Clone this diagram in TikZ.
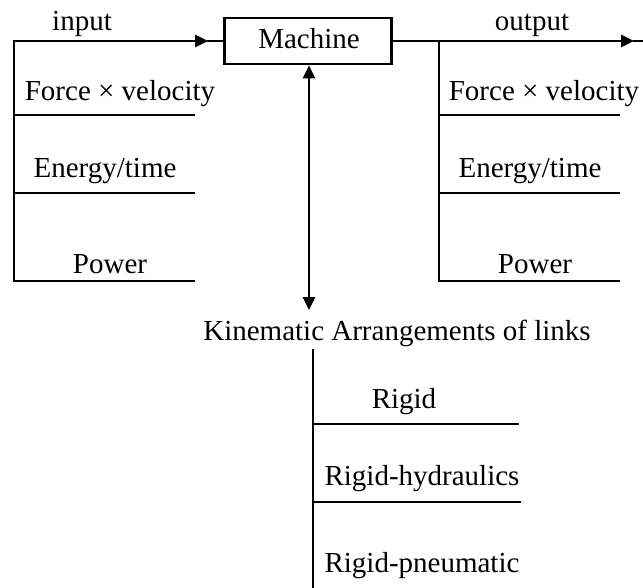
\documentclass[tikz,border=0pt]{standalone}
\usepackage{fontspec}
\setmainfont{Liberation Serif}
\usetikzlibrary{arrows.meta}
\tikzset{
  lbl/.style={anchor=base, inner sep=0pt, font=\fontsize{29}{31}\selectfont},
  ln/.style={line width=2.6pt, line cap=rect},
  arr/.style={line width=2.6pt, -{Triangle[length=13pt,width=12pt]}},
  box/.style={draw, line width=2.6pt, minimum width=167pt, minimum height=46pt, inner sep=0pt, font=\fontsize{29}{31}\selectfont}
}
\begin{document}
\begin{tikzpicture}[x=1pt,y=-1pt]
\useasboundingbox (0,0) rectangle (643,587);
% machine
\node[box] (machine) at (308,41) {};
\node[lbl] (machinet) at (309,48) {Machine};
% input side
\coordinate (inTop) at (14,41);
\coordinate (inTip) at (208,41);
\coordinate (inB1) at (14,115);
\coordinate (inE1) at (194,115);
\coordinate (inB2) at (14,193);
\coordinate (inE2) at (194,193);
\coordinate (inB3) at (14,281);
\coordinate (inE3) at (194,281);
\draw[arr] (inTop) -- (inTip);
\draw[ln] (inTip) -- (machine.west);
\draw[ln] (inTop) -- (inB3);
\draw[ln] (inB1) -- (inE1);
\draw[ln] (inB2) -- (inE2);
\draw[ln] (inB3) -- (inE3);
\node[lbl] (input) at (82,30) {input};
\node[lbl] (fvL) at (120,100) {Force × velocity};
\node[lbl] (etL) at (105,177) {Energy/time};
\node[lbl] (pwL) at (110,273) {Power};
% output side
\coordinate (outTop) at (439,41);
\coordinate (outTip) at (634,41);
\coordinate (outEnd) at (643,41);
\coordinate (outB1) at (439,115);
\coordinate (outE1) at (619,115);
\coordinate (outB2) at (439,193);
\coordinate (outE2) at (619,193);
\coordinate (outB3) at (439,281);
\coordinate (outE3) at (619,281);
\draw[arr] (machine.east) -- (outTip);
\draw[ln] (outTip) -- (outEnd);
\draw[ln] (outTop) -- (outB3);
\draw[ln] (outB1) -- (outE1);
\draw[ln] (outB2) -- (outE2);
\draw[ln] (outB3) -- (outE3);
\node[lbl] (output) at (532,30) {output};
\node[lbl] (fvR) at (544,100) {Force × velocity};
\node[lbl] (etR) at (530,177) {Energy/time};
\node[lbl] (pwR) at (535,273) {Power};
% kinematic
\coordinate (kinTip) at (309,310);
\draw[line width=2.6pt, {Triangle[length=13pt,width=12pt]}-{Triangle[length=13pt,width=12pt]}] (machine.south -| kinTip) -- (kinTip);
\node[lbl] (kin) at (397,340) {Kinematic Arrangements of links};
\coordinate (kTop) at (313,350);
\coordinate (kBot) at (313,590);
\coordinate (kB1) at (313,424);
\coordinate (kE1) at (518,424);
\coordinate (kB2) at (313,502);
\coordinate (kE2) at (520,502);
\draw[ln] (kTop) -- (kBot);
\draw[ln] (kB1) -- (kE1);
\draw[ln] (kB2) -- (kE2);
\node[lbl] (rigid) at (404,408) {Rigid};
\node[lbl] (rh) at (422,485) {Rigid-hydraulics};
\node[lbl] (rp) at (422,572) {Rigid-pneumatic};
\end{tikzpicture}
\end{document}
